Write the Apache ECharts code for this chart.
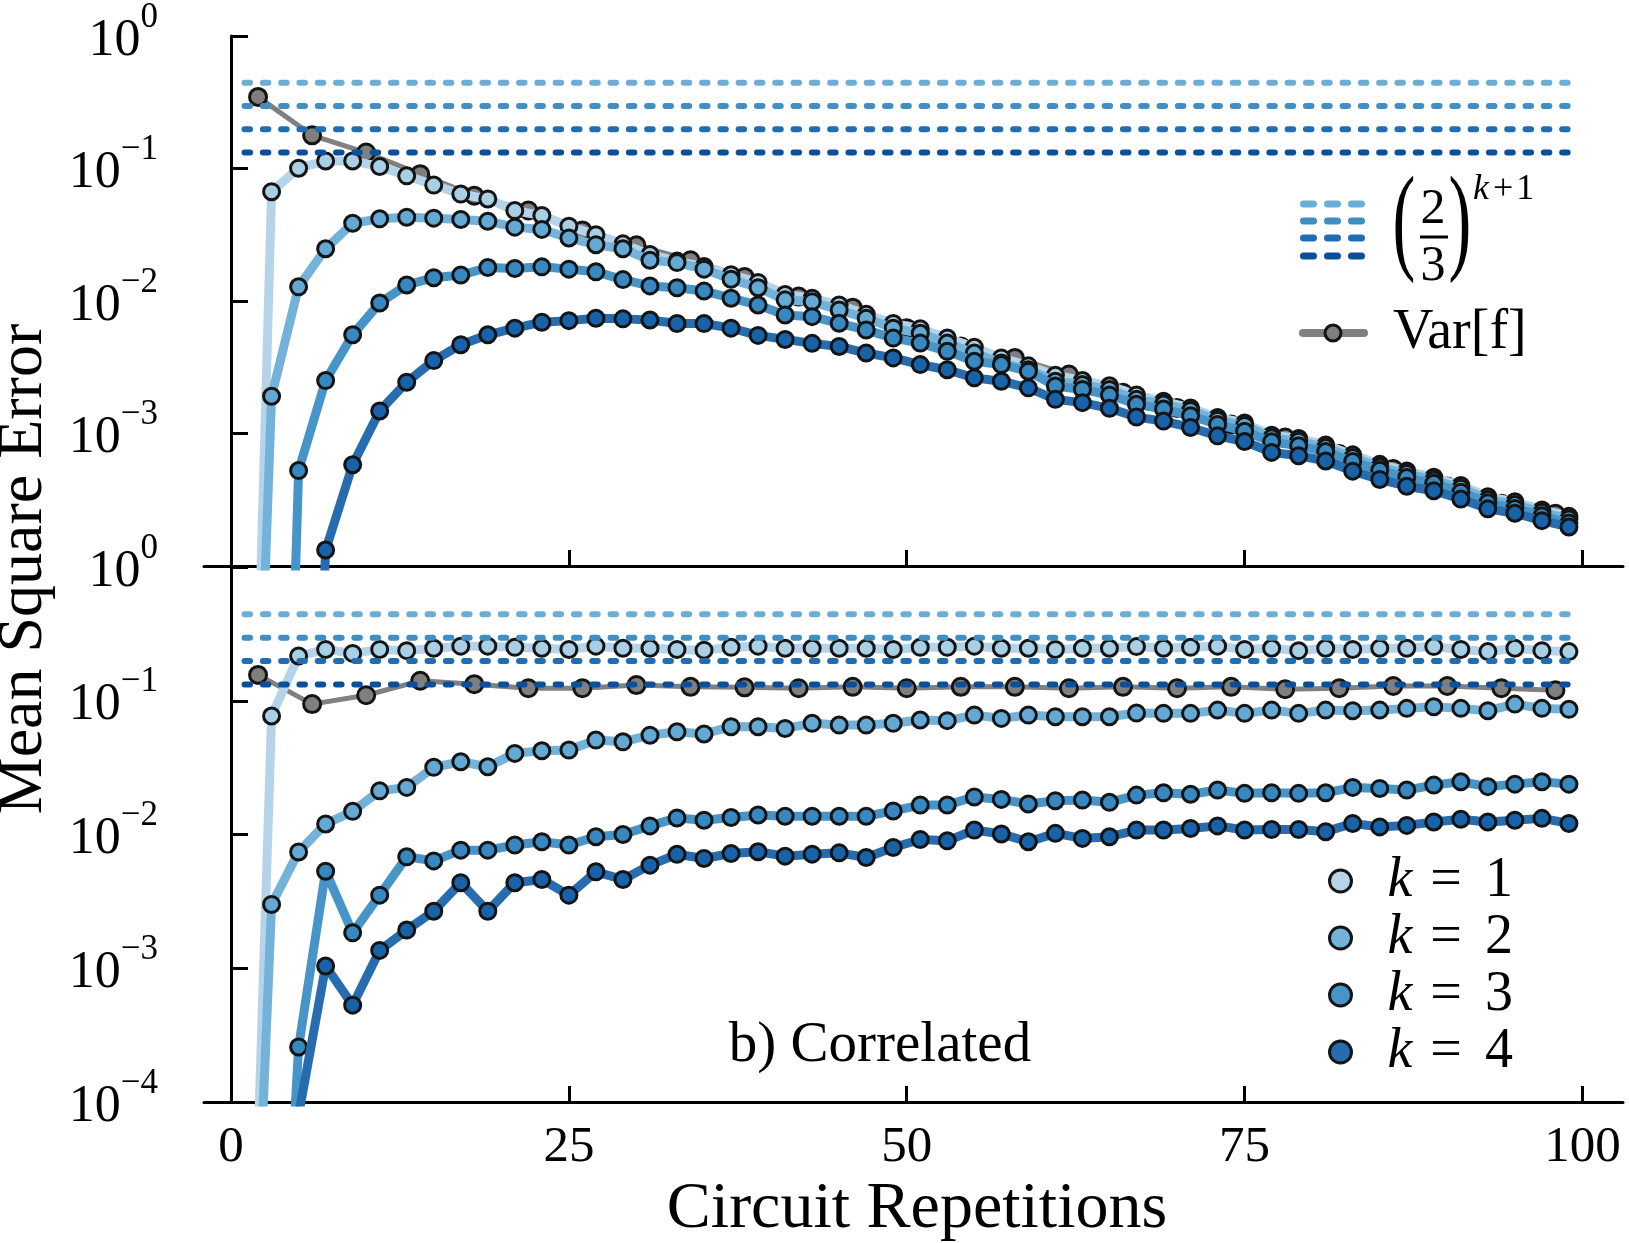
<!DOCTYPE html>
<html>
<head>
<meta charset="utf-8">
<script src="https://cdn.jsdelivr.net/npm/echarts@6/dist/echarts.min.js"></script>
<style>
  html, body { margin: 0; padding: 0; background: #fff; }
  #chart { width: 1629px; height: 1243px; }
</style>
</head>
<body>
<div id="chart"></div>
<script>
// x positions (circuit repetitions)
const kX = [1, 3, 5, 7, 9, 11, 13, 15, 17, 19, 21, 23, 25, 27, 29, 31, 33, 35, 37, 39, 41, 43, 45, 47, 49,
  51, 53, 55, 57, 59, 61, 63, 65, 67, 69, 71, 73, 75, 77, 79, 81, 83, 85, 87, 89, 91, 93, 95, 97, 99]
const varX = [2, 6, 10, 14, 18, 22, 26, 30, 34, 38, 42, 46, 50, 54, 58, 62, 66, 70, 74, 78, 82, 86, 90, 94, 98]
const dashX = [1, 99]
const xTicks = [0, 25, 50, 75, 100]

// (2/3)^(k+1) reference levels, k = 1..4
const dashLevels = [0.444, 0.296, 0.198, 0.132]

// top panel
const topVar = [0.347, 0.178, 0.132, 0.0906, 0.0624, 0.0482, 0.0341, 0.0263, 0.0203, 0.0152, 0.0108, 0.00891,
  0.00624, 0.00454, 0.00372, 0.00279, 0.00203, 0.00156, 0.00117, 0.000933, 0.0007, 0.00054, 0.000398, 0.000295, 0.000248]
const topK1 = [3.2e-9, 0.0668, 0.1005, 0.114, 0.114, 0.1035, 0.0881, 0.075, 0.0641, 0.0589, 0.0481, 0.0442, 0.0367,
  0.0316, 0.027, 0.0224, 0.02, 0.0182, 0.0158, 0.0138, 0.0112, 0.0105, 0.00933, 0.00794, 0.00676, 0.00617, 0.00525,
  0.00447, 0.00372, 0.00324, 0.00275, 0.00251, 0.00229, 0.00195, 0.00175, 0.00156, 0.00132, 0.0012, 0.00097, 0.000916,
  0.00082, 0.00069, 0.000585, 0.000521, 0.000467, 0.000405, 0.000333, 0.000305, 0.000265, 0.000237]
const topK2 = [4e-9, 0.00191, 0.0128, 0.0248, 0.0386, 0.0417, 0.0429, 0.0422, 0.0412, 0.04, 0.0361, 0.0347, 0.0299,
  0.0266, 0.0248, 0.0203, 0.0195, 0.0174, 0.0146, 0.0126, 0.0102, 0.00989, 0.00855, 0.00741, 0.00624, 0.00571,
  0.00481, 0.00405, 0.0034, 0.00303, 0.00248, 0.00234, 0.00215, 0.00181, 0.00167, 0.00149, 0.00126, 0.00115,
  0.000927, 0.000875, 0.000783, 0.000659, 0.000558, 0.000498, 0.000446, 0.000386, 0.000318, 0.000291, 0.000254, 0.000226]
const topK3 = [1e-10, 1e-10, 0.000525, 0.00251, 0.00556, 0.00966, 0.0132, 0.015, 0.0157, 0.0179, 0.0176, 0.0181,
  0.0174, 0.0166, 0.0145, 0.013, 0.0126, 0.0119, 0.0105, 0.00933, 0.00785, 0.00762, 0.00679, 0.00605, 0.00525,
  0.00481, 0.00417, 0.00351, 0.00331, 0.00295, 0.00228, 0.00215, 0.00195, 0.00166, 0.00153, 0.00136, 0.00117,
  0.00104, 0.000865, 0.000807, 0.000731, 0.000615, 0.000527, 0.000465, 0.000421, 0.000361, 0.0003, 0.000272, 0.000239, 0.000211]
const topK4 = [1e-10, 1e-10, 1e-9, 0.000132, 0.000581, 0.00148, 0.00244, 0.00355, 0.00468, 0.00556, 0.00624, 0.00692,
  0.00711, 0.00741, 0.00733, 0.00719, 0.00676, 0.00676, 0.00624, 0.0055, 0.00513, 0.00479, 0.00454, 0.00405, 0.00372,
  0.00331, 0.00303, 0.00263, 0.00248, 0.00221, 0.00181, 0.00171, 0.00155, 0.00133, 0.00124, 0.00111, 0.00096,
  0.00087, 0.00072, 0.00068, 0.00062, 0.00052, 0.00045, 0.0004, 0.00037, 0.00032, 0.00027, 0.00025, 0.00022, 0.000197]

// bottom panel (b) Correlated
const botVar = [0.156, 0.0944, 0.11, 0.141, 0.133, 0.124, 0.124, 0.131, 0.127, 0.126, 0.124, 0.127, 0.124, 0.127,
  0.127, 0.124, 0.127, 0.124, 0.127, 0.122, 0.124, 0.129, 0.129, 0.124, 0.12]
const botK1 = [3e-8, 0.0769, 0.216, 0.242, 0.226, 0.242, 0.237, 0.247, 0.256, 0.256, 0.251, 0.247, 0.242, 0.256,
  0.247, 0.247, 0.242, 0.239, 0.251, 0.256, 0.247, 0.247, 0.247, 0.247, 0.242, 0.251, 0.251, 0.256, 0.247, 0.247,
  0.242, 0.247, 0.247, 0.254, 0.247, 0.251, 0.256, 0.242, 0.247, 0.237, 0.247, 0.242, 0.247, 0.247, 0.254, 0.242,
  0.233, 0.247, 0.237, 0.233]
const botK2 = [4e-8, 0.003, 0.00741, 0.012, 0.0149, 0.0212, 0.0225, 0.0318, 0.035, 0.0321, 0.0404, 0.0423, 0.0428,
  0.0508, 0.0493, 0.0553, 0.0586, 0.0564, 0.064, 0.064, 0.0621, 0.0678, 0.0658, 0.0658, 0.0678, 0.0718, 0.071,
  0.0782, 0.0738, 0.0782, 0.076, 0.076, 0.076, 0.0809, 0.0805, 0.0805, 0.0851, 0.0805, 0.0851, 0.0805, 0.0851,
  0.0843, 0.0851, 0.0877, 0.0902, 0.0877, 0.0843, 0.0944, 0.0877, 0.0863]
const botK3 = [6e-8, 6e-8, 0.000258, 0.00532, 0.00184, 0.00352, 0.00681, 0.00635, 0.00764, 0.00764, 0.00834, 0.00883,
  0.00834, 0.00962, 0.01, 0.0116, 0.0133, 0.0128, 0.0134, 0.014, 0.0137, 0.0137, 0.0137, 0.0137, 0.015, 0.0166,
  0.0166, 0.0191, 0.0183, 0.0169, 0.0179, 0.0181, 0.0174, 0.0197, 0.0205, 0.02, 0.0215, 0.0203, 0.0205, 0.0203,
  0.0205, 0.0225, 0.0221, 0.0215, 0.0234, 0.0248, 0.0228, 0.0238, 0.0248, 0.0238]
const botK4 = [1e-9, 1e-9, 8e-5, 0.00104, 0.00053, 0.00136, 0.00193, 0.00267, 0.00436, 0.00267, 0.00436, 0.00461,
  0.00352, 0.00526, 0.00461, 0.0059, 0.00711, 0.00662, 0.00721, 0.00743, 0.00689, 0.00713, 0.00729, 0.00673, 0.008,
  0.00918, 0.00897, 0.0108, 0.0101, 0.00883, 0.0102, 0.00935, 0.00962, 0.0108, 0.0108, 0.0111, 0.0116, 0.0108,
  0.0109, 0.0109, 0.0105, 0.0121, 0.0114, 0.0117, 0.0124, 0.013, 0.0124, 0.0128, 0.0132, 0.0121]

const kNames = ['k = 1', 'k = 2', 'k = 3', 'k = 4']

const FONT = "'Liberation Serif', 'DejaVu Serif', serif"
const lineColors = ['#b5d4ea', '#74b3d9', '#4694c8', '#276cae']
const markColors = ['#a9cfe5', '#64a9d3', '#3787c0', '#1862a9']
const dashColors = ['#6aaed6', '#3f8fc5', '#1f6db3', '#0a4f9b']
const edge = '#141414'

const chart = echarts.init(document.getElementById('chart'))

const pairs = (xs, ys) => xs.map((x, i) => [x, ys[i]])

const panelSeries = (idx, varVals, kVals) => {
  const out = [{
    name: 'Var[f]',
    type: 'line',
    xAxisIndex: idx,
    yAxisIndex: idx,
    data: pairs(varX, varVals),
    symbol: 'circle',
    symbolSize: 17,
    lineStyle: { color: '#808080', width: 5 },
    itemStyle: { color: '#7f7f7f', borderColor: edge, borderWidth: 3 },
    z: 2
  }]
  kVals.forEach((vals, i) => {
    out.push({
      name: kNames[i],
      type: 'line',
      xAxisIndex: idx,
      yAxisIndex: idx,
      data: pairs(kX, vals),
      symbol: 'circle',
      symbolSize: 16,
      lineStyle: { color: lineColors[i], width: 9 },
      itemStyle: { color: markColors[i], borderColor: edge, borderWidth: 3 },
      z: 3 + i
    })
  })
  dashLevels.forEach((v, i) => {
    out.push({
      name: 'level' + (i + 1),
      type: 'line',
      xAxisIndex: idx,
      yAxisIndex: idx,
      data: dashX.map(x => [x, v]),
      symbol: 'none',
      lineStyle: { color: dashColors[i], width: 6, type: [5.5, 12.8], cap: 'round' },
      z: 8
    })
  })
  return out
}

const xAxis = idx => ({
  type: 'value',
  gridIndex: idx,
  min: -2,
  max: 103,
  axisLine: { show: true, onZero: false, lineStyle: { color: '#000', width: 3 } },
  axisTick: { show: true, inside: true, length: 16, customValues: xTicks, lineStyle: { color: '#000', width: 3 } },
  axisLabel: { show: idx === 1, customValues: xTicks, margin: 20, fontFamily: FONT, fontSize: 51, color: '#000' },
  splitLine: { show: false }
})

const yAxis = idx => ({
  type: 'log',
  logBase: 10,
  gridIndex: idx,
  min: 1e-4,
  max: 1,
  splitNumber: 4,
  axisLine: { show: true, lineStyle: { color: '#000', width: 3 } },
  axisTick: { show: true, inside: true, length: 17, lineStyle: { color: '#000', width: 3 } },
  minorTick: { show: false },
  splitLine: { show: false },
  axisLabel: {
    margin: 46,
    showMinLabel: idx === 1,
    formatter: v => {
      const e = Math.round(Math.log10(v))
      return '{b|10}{s|' + (e < 0 ? '\u2212' + (-e) : e) + '}'
    },
    rich: {
      b: { fontFamily: FONT, fontSize: 52, lineHeight: 72, padding: [0, 0, 5, 0], verticalAlign: 'bottom', color: '#000' },
      s: { fontFamily: FONT, fontSize: 35, lineHeight: 35, verticalAlign: 'top', color: '#000' }
    }
  }
})

// pieces of the "(2/3)^(k+1)" and "Var[f]" legend
const legendGraphics = []
;[204, 221, 238, 256].forEach((y, i) => {
  legendGraphics.push({
    type: 'line',
    shape: { x1: 1303.5, y1: y, x2: 1362, y2: y },
    style: { stroke: dashColors[i], lineWidth: 7, lineDash: [10, 14], lineCap: 'round' }
  })
})
legendGraphics.push(
  { type: 'text', x: 1404, y: 227, scaleX: 0.58, style: { text: '(', fontFamily: FONT, fontSize: 118, fill: '#000', align: 'center', verticalAlign: 'middle' } },
  { type: 'text', x: 1460, y: 227, scaleX: 0.58, style: { text: ')', fontFamily: FONT, fontSize: 118, fill: '#000', align: 'center', verticalAlign: 'middle' } },
  { type: 'text', x: 1433, y: 210, style: { text: '2', fontFamily: FONT, fontSize: 50, fill: '#000', align: 'center', verticalAlign: 'middle' } },
  { type: 'line', shape: { x1: 1420, y1: 237, x2: 1448, y2: 237 }, style: { stroke: '#000', lineWidth: 3 } },
  { type: 'text', x: 1433, y: 267, style: { text: '3', fontFamily: FONT, fontSize: 50, fill: '#000', align: 'center', verticalAlign: 'middle' } },
  {
    type: 'text', x: 1473, y: 190,
    style: {
      text: '{i|k}{p|+}{n|1}', align: 'left', verticalAlign: 'middle',
      rich: {
        i: { fontFamily: FONT, fontStyle: 'italic', fontSize: 36, fill: '#000' },
        p: { fontFamily: FONT, fontSize: 36, padding: [0, 3, 0, 4], fill: '#000' },
        n: { fontFamily: FONT, fontSize: 36, fill: '#000' }
      }
    }
  },
  { type: 'line', shape: { x1: 1303, y1: 333, x2: 1364, y2: 333 }, style: { stroke: '#808080', lineWidth: 8, lineCap: 'round' } },
  { type: 'circle', shape: { cx: 1333, cy: 333, r: 8 }, style: { fill: '#7f7f7f', stroke: edge, lineWidth: 3 } },
  { type: 'text', x: 1393, y: 333, style: { text: 'Var[f]', fontFamily: FONT, fontSize: 56, fill: '#000', align: 'left', verticalAlign: 'middle' } }
)

const option = {
  backgroundColor: '#fff',
  animation: false,
  grid: [
    { left: 204, right: 6, top: 33, height: 533 },
    { left: 204, right: 6, top: 567, height: 535 }
  ],
  xAxis: [xAxis(0), xAxis(1)],
  yAxis: [yAxis(0), yAxis(1)],
  legend: {
    data: kNames.map((n, i) => ({
      name: n,
      itemStyle: { color: lineColors[i], borderColor: edge, borderWidth: 3 }
    })),
    orient: 'vertical',
    left: 1328,
    top: 853,
    padding: 0,
    icon: 'circle',
    itemWidth: 22,
    itemHeight: 22,
    itemGap: 1,
    selectedMode: false,
    formatter: name => '{k|k}{e|=}{n|' + name.slice(-1) + '}',
    textStyle: {
      rich: {
        k: { fontFamily: FONT, fontStyle: 'italic', fontSize: 56, lineHeight: 40, padding: [0, 0, 0, 31], color: '#000' },
        e: { fontFamily: FONT, fontSize: 56, lineHeight: 40, padding: [0, 23, 0, 18], color: '#000' },
        n: { fontFamily: FONT, fontSize: 56, lineHeight: 40, color: '#000' }
      }
    }
  },
  graphic: [
    {
      type: 'text', x: 24, y: 569, rotation: Math.PI / 2,
      style: { text: 'Mean Square Error', fontFamily: FONT, fontSize: 64, fill: '#000', align: 'center', verticalAlign: 'middle' }
    },
    {
      type: 'text', x: 917, y: 1210,
      style: { text: 'Circuit Repetitions', fontFamily: FONT, fontSize: 66, fill: '#000', align: 'center', verticalAlign: 'middle' }
    },
    {
      type: 'text', x: 880, y: 1046,
      style: { text: 'b) Correlated', fontFamily: FONT, fontSize: 57, fill: '#000', align: 'center', verticalAlign: 'middle' }
    },
    ...legendGraphics
  ],
  series: [
    ...panelSeries(0, topVar, [topK1, topK2, topK3, topK4]),
    ...panelSeries(1, botVar, [botK1, botK2, botK3, botK4])
  ]
}

chart.setOption(option)
window.addEventListener('resize', () => chart.resize())
</script>
</body>
</html>
